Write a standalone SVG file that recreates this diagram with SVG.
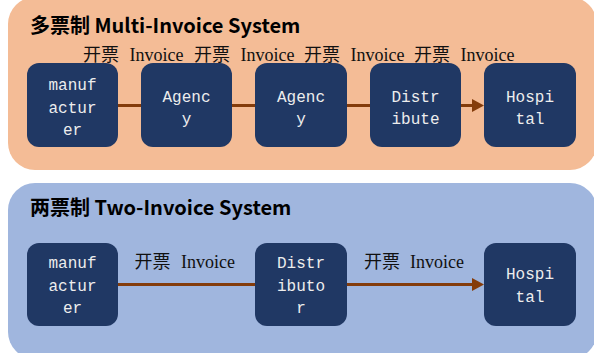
<svg xmlns="http://www.w3.org/2000/svg" width="594" height="353" viewBox="0 0 594 353">
<defs>
<style>
.panel-top{fill:#F4BC96}
.panel-bot{fill:#A0B6DE}
.node rect{fill:#203864}
.node text{font-family:"Liberation Mono","Noto Sans CJK SC",monospace;font-size:16px;fill:#EDEDED;text-anchor:middle}
.title{font-family:"Noto Sans CJK SC","Noto Sans",sans-serif;font-size:20px;font-weight:bold;fill:#000}
.lbl{font-family:"Liberation Serif","Noto Sans CJK SC",serif;font-size:18px;fill:#111}
.conn{stroke:#843C0B;stroke-width:3.2;fill:none}
</style>
<marker id="ah" viewBox="0 0 12 13" refX="2" refY="6.5" markerWidth="12" markerHeight="13" markerUnits="userSpaceOnUse" orient="auto">
<path d="M0,0 L12,6.5 L0,13 z" fill="#843C0B"/>
</marker>
</defs>
<rect class="panel-top" x="8" y="-3" width="589" height="173" rx="27"/>
<rect class="panel-bot" x="8" y="183" width="589" height="176" rx="27"/>
<text class="title" x="30" y="33">多票制 Multi-Invoice System</text>
<text class="title" x="30" y="215">两票制 Two-Invoice System</text>
<g id="connectors">
<line class="conn" x1="118" y1="105.5" x2="474" y2="105.5" marker-end="url(#ah)"/>
<line class="conn" x1="118" y1="284.5" x2="474" y2="284.5" marker-end="url(#ah)"/>
</g>
<g id="labels">
<text class="lbl" y="60.5"><tspan x="83">开票</tspan><tspan x="129.5">Invoice</tspan></text>
<text class="lbl" y="60.5"><tspan x="194">开票</tspan><tspan x="240.5">Invoice</tspan></text>
<text class="lbl" y="60.5"><tspan x="304">开票</tspan><tspan x="350.5">Invoice</tspan></text>
<text class="lbl" y="60.5"><tspan x="414">开票</tspan><tspan x="460.5">Invoice</tspan></text>
<text class="lbl" y="268"><tspan x="134.5">开票</tspan><tspan x="181">Invoice</tspan></text>
<text class="lbl" y="268"><tspan x="364">开票</tspan><tspan x="410">Invoice</tspan></text>
</g>
<g id="n-manufacturer-1" class="node"><rect x="27" y="63" width="91" height="84" rx="12"/><text x="72.5" y="90">manuf</text><text x="72.5" y="112.5">actur</text><text x="72.5" y="135">er</text></g>
<g id="n-agency-1" class="node"><rect x="141" y="63" width="91" height="84" rx="12"/><text x="186.5" y="101.5">Agenc</text><text x="186.5" y="123.5">y</text></g>
<g id="n-agency-2" class="node"><rect x="255" y="63" width="92" height="84" rx="12"/><text x="301" y="101.5">Agenc</text><text x="301" y="123.5">y</text></g>
<g id="n-distribute" class="node"><rect x="370" y="63" width="91" height="84" rx="12"/><text x="415.5" y="101.5">Distr</text><text x="415.5" y="123.5">ibute</text></g>
<g id="n-hospital-1" class="node"><rect x="484" y="63" width="92" height="84" rx="12"/><text x="530" y="101.5">Hospi</text><text x="530" y="123.5">tal</text></g>
<g id="n-manufacturer-2" class="node"><rect x="27" y="243" width="91" height="83" rx="12"/><text x="72.5" y="268">manuf</text><text x="72.5" y="291">actur</text><text x="72.5" y="313">er</text></g>
<g id="n-distributor" class="node"><rect x="255" y="243" width="92" height="83" rx="12"/><text x="301" y="268">Distr</text><text x="301" y="291">ibuto</text><text x="301" y="313">r</text></g>
<g id="n-hospital-2" class="node"><rect x="484" y="243" width="92" height="83" rx="12"/><text x="530" y="279">Hospi</text><text x="530" y="301.5">tal</text></g>
</svg>
